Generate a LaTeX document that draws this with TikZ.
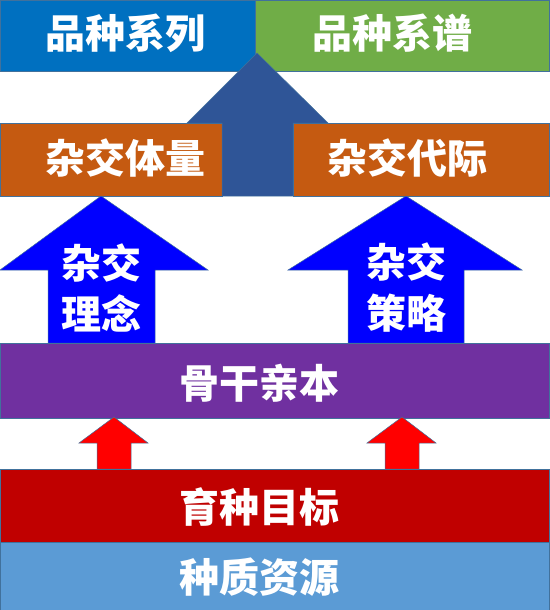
\documentclass[tikz,border=0pt]{standalone}
\usepackage{fontspec}
\newfontfamily\cjk{Noto Sans CJK SC}
\usepackage{tikz}
\definecolor{barblue}{HTML}{0070C0}
\definecolor{bargreen}{HTML}{70AD47}
\definecolor{arrowdark}{HTML}{2F5597}
\definecolor{barorange}{HTML}{C55A11}
\definecolor{arrowblue}{HTML}{0000FF}
\definecolor{barpurple}{HTML}{7030A0}
\definecolor{arrowred}{HTML}{FF0000}
\definecolor{bardarkred}{HTML}{C00000}
\definecolor{barlight}{HTML}{5B9BD5}
\definecolor{edgeline}{HTML}{41719C}
\tikzset{
  band/.style={draw=edgeline, line width=0.5pt},
  label/.style={text=white, inner sep=0pt, align=center,
    font=\cjk\bfseries\fontsize{40}{51}\selectfont}
}

\begin{document}
\begin{tikzpicture}[x=1pt, y=-1pt]
        \useasboundingbox (0,0) rectangle (549,610);
        % Top row
        \filldraw[band, fill=barblue] (0,0) rectangle (255,71);
        \filldraw[band, fill=bargreen] (255,0) rectangle (549,71);
        \node[label] (series) at (125,33) {品种系列};
        \node[label] (pedigree) at (392,33) {品种系谱};
        % Orange boxes
        \filldraw[band, fill=barorange] (0,123) rectangle (222,196);
        \filldraw[band, fill=barorange] (293,123) rectangle (549,196);
        \node[label] (volume) at (125,158) {杂交体量};
        \node[label] (generation) at (407,158) {杂交代际};
        % Big arrow up to the top row
        \filldraw[band, fill=arrowdark] (257,53) -- (328,123) -- (293,123)
          -- (293,196) -- (222,196) -- (222,123) -- (187,123) -- cycle;
        % Blue arrows
        \filldraw[band, fill=arrowblue] (101,196) -- (208,270) -- (155,270)
          -- (155,343) -- (48,343) -- (48,270) -- (0,270) -- cycle;
        \filldraw[band, fill=arrowblue] (406,196) -- (522,270) -- (464,270)
          -- (464,343) -- (348,343) -- (348,270) -- (288,270) -- cycle;
        \node[label] (idea) at (101,288) {杂交\\理念};
        \node[label] (strategy) at (406,288) {杂交\\策略};
        % Purple bar
        \filldraw[band, fill=barpurple] (0,343) rectangle (549,418);
        \node[label] (backbone) at (259,383) {骨干亲本};
        % Red arrows
        \filldraw[band, fill=arrowred] (114,417) -- (148,443) -- (131,443)
          -- (131,469) -- (97,469) -- (97,443) -- (79,443) -- cycle;
        \filldraw[band, fill=arrowred] (402,417) -- (436,443) -- (419,443)
          -- (419,469) -- (385,469) -- (385,443) -- (367,443) -- cycle;
        % Bottom bars
        \filldraw[band, fill=bardarkred] (0,469) rectangle (549,542);
        \node[label] (goal) at (259,507) {育种目标};
        \filldraw[band, fill=barlight] (0,542) rectangle (549,610);
        \node[label] (germplasm) at (259,577) {种质资源};
    \end{tikzpicture}
\end{document}
